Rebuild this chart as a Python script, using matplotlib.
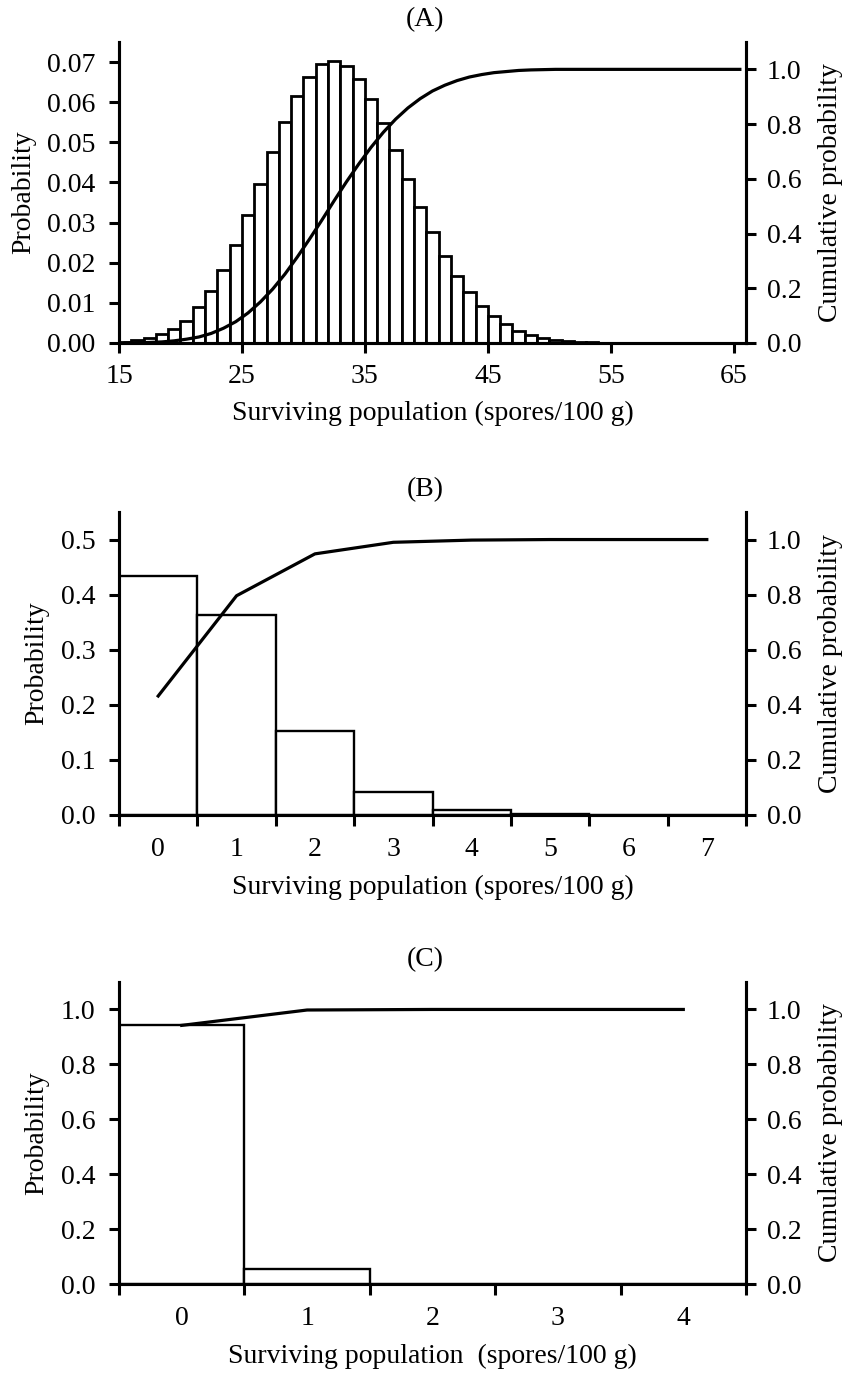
import matplotlib
matplotlib.use('Agg')
import matplotlib.pyplot as plt
import numpy as np
from matplotlib.ticker import FixedLocator, FormatStrFormatter, NullFormatter

plt.rcParams['font.family'] = ['Liberation Serif', 'DejaVu Serif']
plt.rcParams['font.size'] = 20

# ---------------- data ----------------
# Panel A: surviving population 15..65 (bars span k..k+1)
a_values = list(range(15, 66))
a_prob = [0.0002, 0.0007, 0.0012, 0.0022, 0.0036, 0.0056, 0.0089, 0.0129, 0.0182, 0.0245,
          0.0319, 0.0396, 0.0475, 0.0551, 0.0615, 0.0664, 0.0694, 0.0702, 0.0691, 0.0657,
          0.0609, 0.0547, 0.0481, 0.0408, 0.0340, 0.0276, 0.0217, 0.0168, 0.0126, 0.0093,
          0.0068, 0.0047, 0.0031, 0.0020, 0.0013, 0.0008, 0.0005, 0.0003, 0.0002, 0.0001,
          0.0001, 0.0, 0.0, 0.0, 0.0, 0.0, 0.0, 0.0, 0.0, 0.0, 0.0]
a_cum = [0.000, 0.001, 0.002, 0.004, 0.008, 0.014, 0.022, 0.035, 0.054, 0.078,
         0.110, 0.150, 0.197, 0.252, 0.314, 0.380, 0.449, 0.520, 0.589, 0.654,
         0.715, 0.770, 0.818, 0.859, 0.893, 0.921, 0.942, 0.959, 0.972, 0.981,
         0.988, 0.992, 0.996, 0.998, 0.999, 1.000, 1.000, 1.000, 1.000, 1.000,
         1.000, 1.000, 1.000, 1.000, 1.000, 1.000, 1.000, 1.000, 1.000, 1.000, 1.000]
a_xticks = [15, 25, 35, 45, 55, 65]

# Panel B
b_values = [0, 1, 2, 3, 4, 5, 6, 7]
b_prob = [0.434, 0.3625, 0.152, 0.042, 0.0097, 0.0024, 0.0005, 0.0001]
b_cum = [0.432, 0.796, 0.948, 0.990, 0.998, 1.000, 1.000, 1.000]

# Panel C
c_values = [0, 1, 2, 3, 4]
c_prob = [0.9417, 0.0535, 0.0, 0.0, 0.0]
c_cum = [0.942, 0.998, 1.000, 1.000, 1.000]

titles = ['(A)', '(B)', '(C)']
xlabels = ['Surviving population (spores/100 g)',
           'Surviving population (spores/100 g)',
           'Surviving population  (spores/100 g)']

# ---------------- figure ----------------
W, H = 850, 1376
fig = plt.figure(figsize=(W / 100, H / 100), dpi=100)


def px_axes(left, top, right, bottom):
    return fig.add_axes([left / W, 1 - bottom / H, (right - left) / W, (bottom - top) / H])


SPINE_LW = 2.2
FS = 20


def style(ax, ax2):
    for a in (ax, ax2):
        a.spines['top'].set_visible(False)
        for s in ('left', 'right', 'bottom'):
            a.spines[s].set_linewidth(SPINE_LW)
    ax.tick_params(axis='y', direction='out', length=7, width=SPINE_LW, pad=10, labelsize=FS)
    ax2.tick_params(axis='y', direction='out', length=7, width=SPINE_LW, pad=8, labelsize=FS)
    ax2.set_ylim(0, 1.1)
    ax2.yaxis.set_major_locator(FixedLocator([0, 0.2, 0.4, 0.6, 0.8, 1.0]))
    ax2.yaxis.set_major_formatter(FormatStrFormatter('%.1f'))
    ax.set_ylabel('Probability', fontsize=FS, labelpad=8)
    ax2.set_ylabel('Cumulative probability', fontsize=FS, labelpad=12)


tops = [42, 512, 982]
bottoms = [343, 815, 1284]
L, R = 119, 746

# Panel A
ax = px_axes(L, tops[0], R, bottoms[0])
ax.bar(a_values, a_prob, width=1.0, align='edge', facecolor='white',
       edgecolor='black', linewidth=2.0)
ax.set_xlim(15, 66)
ax.set_ylim(0, 0.075)
ax.yaxis.set_major_locator(FixedLocator([0, 0.01, 0.02, 0.03, 0.04, 0.05, 0.06, 0.07]))
ax.yaxis.set_major_formatter(FormatStrFormatter('%.2f'))
ax.xaxis.set_major_locator(FixedLocator(a_xticks))
ax.tick_params(axis='x', direction='out', length=7, width=SPINE_LW, pad=8, labelsize=FS)
ax2 = ax.twinx()
ax2.plot(np.array(a_values) + 0.5, a_cum, color='black', lw=2.3)
style(ax, ax2)
ax.set_xlabel(xlabels[0], fontsize=FS, labelpad=9)


def cat_panel(top, bottom, values, prob, cum, ylim, yticks, xlabel):
    ax = px_axes(L, top, R, bottom)
    ax.bar(values, prob, width=1.0, align='center', facecolor='white',
           edgecolor='black', linewidth=1.7)
    n = len(values)
    ax.set_xlim(-0.5, n - 0.5)
    ax.set_ylim(*ylim)
    ax.yaxis.set_major_locator(FixedLocator(yticks))
    ax.yaxis.set_major_formatter(FormatStrFormatter('%.1f'))
    ax.xaxis.set_major_locator(FixedLocator(values))
    ax.xaxis.set_minor_locator(FixedLocator([v - 0.5 for v in values] + [n - 0.5]))
    ax.xaxis.set_minor_formatter(NullFormatter())
    ax.tick_params(axis='x', which='major', length=0, pad=16, labelsize=FS)
    ax.tick_params(axis='x', which='minor', direction='out', length=8, width=SPINE_LW)
    ax2 = ax.twinx()
    ax2.plot(values, cum, color='black', lw=2.3)
    style(ax, ax2)
    ax.set_xlabel(xlabel, fontsize=FS, labelpad=9)
    return ax


cat_panel(tops[1], bottoms[1], b_values, b_prob, b_cum, (0, 0.55),
          [0, 0.1, 0.2, 0.3, 0.4, 0.5], xlabels[1])
cat_panel(tops[2], bottoms[2], c_values, c_prob, c_cum, (0, 1.1),
          [0, 0.2, 0.4, 0.6, 0.8, 1.0], xlabels[2])

for t, top in zip(titles, tops):
    fig.text(425 / W, 1 - (top - 22) / H, t, ha='center', va='center', fontsize=FS)

fig.savefig('out.png', dpi=100)
